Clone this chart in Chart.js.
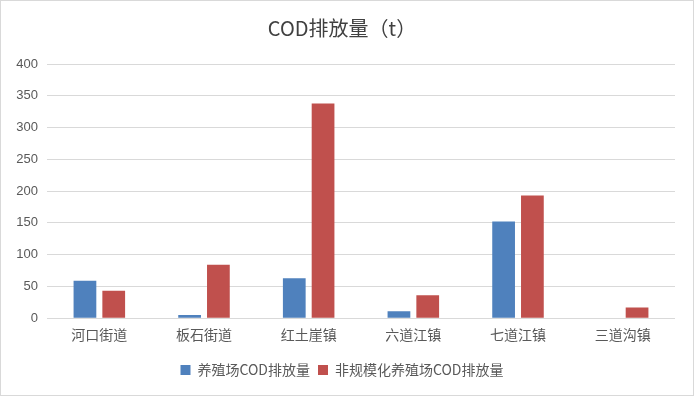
<!DOCTYPE html>
<html>
<head>
<meta charset="utf-8">
<script src="https://cdn.jsdelivr.net/npm/chart.js@4/dist/chart.umd.min.js"></script>
<style>
  html, body { margin: 0; padding: 0; background: #fff; }
  #wrap { width: 694px; height: 396px; box-sizing: border-box; border: 1px solid #d9d9d9; position: relative; }
  canvas { display: block; }
</style>
</head>
<body>
<div id="wrap"><canvas id="chart" width="692" height="394"></canvas></div>
<script>
const categories = ['河口街道', '板石街道', '红土崖镇', '六道江镇', '七道江镇', '三道沟镇'];
const farmCOD = [59, 5, 63, 11, 152, 0];          // 养殖场COD排放量
const smallFarmCOD = [43, 84, 338, 36, 193, 17];  // 非规模化养殖场COD排放量
const yTicks = [0, 50, 100, 150, 200, 250, 300, 350, 400];

const fontFamily = '"Noto Sans CJK SC", "Microsoft YaHei", sans-serif';

new Chart(document.getElementById('chart'), {
  type: 'bar',
  data: {
    labels: categories,
    datasets: [
      {
        label: '养殖场COD排放量',
        data: farmCOD,
        backgroundColor: '#4f81bd',
        categoryPercentage: 0.55,
        barPercentage: 0.79
      },
      {
        label: '非规模化养殖场COD排放量',
        data: smallFarmCOD,
        backgroundColor: '#c0504d',
        categoryPercentage: 0.55,
        barPercentage: 0.79
      }
    ]
  },
  options: {
    responsive: false,
    animation: false,
    layout: { padding: { top: 8, left: 8, right: 18, bottom: 8 } },
    plugins: {
      title: {
        display: true,
        text: 'COD排放量（t）',
        color: '#404040',
        font: { family: fontFamily, size: 20, weight: 'normal' },
        padding: { top: 7, bottom: 24 }
      },
      legend: {
        position: 'bottom',
        labels: {
          boxWidth: 10,
          boxHeight: 10,
          padding: 8,
          color: '#595959',
          font: { family: fontFamily, size: 14 }
        }
      },
      tooltip: { enabled: false }
    },
    scales: {
      x: {
        grid: { display: false },
        border: { display: false },
        afterFit: axis => { axis.height += 12; },
        ticks: { color: '#595959', font: { family: fontFamily, size: 14 }, padding: 0 }
      },
      y: {
        min: 0,
        max: 400,
        afterBuildTicks: axis => { axis.ticks = yTicks.map(v => ({ value: v })); },
        afterFit: axis => { axis.width = 38; },
        grid: { color: '#d9d9d9', drawTicks: false },
        border: { display: false },
        ticks: { color: '#595959', font: { family: 'Liberation Sans, Arial, sans-serif', size: 13 }, padding: 9 }
      }
    }
  }
});
</script>
</body>
</html>
